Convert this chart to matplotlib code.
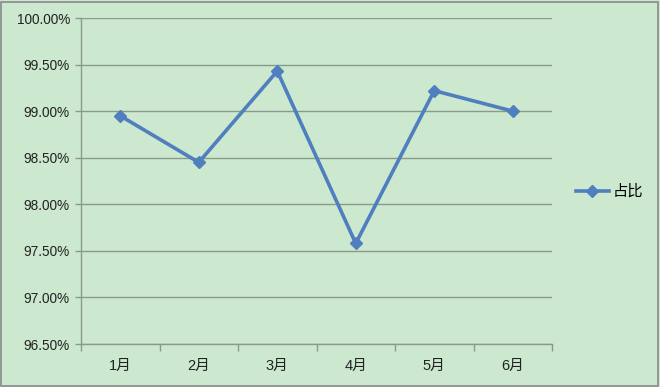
import matplotlib
matplotlib.use("Agg")
import matplotlib.pyplot as plt
from matplotlib.patches import Rectangle
from matplotlib.ticker import FuncFormatter, FixedLocator, NullFormatter

months = ["1月", "2月", "3月", "4月", "5月", "6月"]
share = [98.95, 98.45, 99.43, 97.58, 99.22, 99.00]
series_name = "占比"
y_ticks = [96.5, 97.0, 97.5, 98.0, 98.5, 99.0, 99.5, 100.0]

plt.rcParams['font.family'] = ['Liberation Sans', 'Noto Sans CJK SC', 'DejaVu Sans']

bg = "#cce8cf"
line_c = "#4f7fbe"
grid_c = "#8a9a8a"

fig = plt.figure(figsize=(6.6, 3.87), dpi=100)
fig.patch.set_facecolor(bg)
ax = fig.add_axes([81/660, 1-344/387, (552-81)/660, (344-18)/387])
ax.set_facecolor(bg)

x = list(range(len(months)))
ax.plot(x, share, color=line_c, lw=2.6, marker="D", ms=6.5,
        markerfacecolor=line_c, markeredgecolor=line_c, label=series_name, zorder=3)

ax.set_xlim(-0.5, len(months) - 0.5)
ax.set_ylim(y_ticks[0], y_ticks[-1])
ax.yaxis.set_major_locator(FixedLocator(y_ticks))
ax.yaxis.set_major_formatter(FuncFormatter(lambda v, p: f"{v:.2f}%"))
ax.grid(axis="y", color=grid_c, lw=1.0)
ax.set_axisbelow(True)

ax.set_xticks(x)
ax.set_xticklabels(months)
ax.xaxis.set_minor_locator(FixedLocator([i + 0.5 for i in range(-1, len(months))]))
ax.xaxis.set_minor_formatter(NullFormatter())
ax.tick_params(axis="x", which="major", length=0, pad=11, labelsize=10.5, colors="#222222")
ax.tick_params(axis="x", which="minor", length=5, color=grid_c, width=1)
ax.tick_params(axis="y", length=4, color=grid_c, width=1, pad=4, labelsize=9.8, labelcolor="#222222")

for s in ["top", "right"]:
    ax.spines[s].set_visible(False)
for s in ["left", "bottom"]:
    ax.spines[s].set_color(grid_c)
    ax.spines[s].set_linewidth(1.0)

leg = fig.legend(loc="center left", bbox_to_anchor=(568/660, 1-192/387), frameon=False,
                 fontsize=11, handlelength=2.2, handletextpad=0.25, borderpad=0)

fig.patches.append(Rectangle((1/660, 1/387), 657/660, 384/387, transform=fig.transFigure,
                             fill=False, edgecolor="#8a8a8a", lw=1.2))

fig.savefig("out.png", dpi=100, facecolor=bg)
